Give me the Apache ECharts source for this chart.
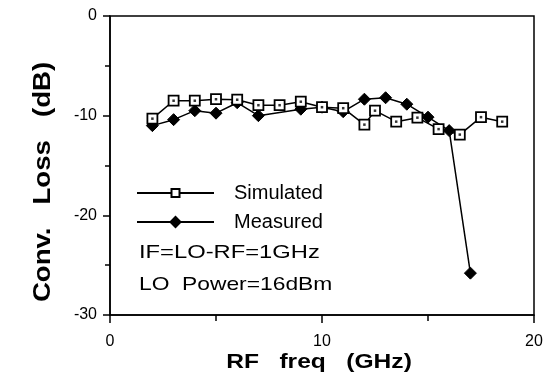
<!DOCTYPE html>
<html>
<head>
<meta charset="utf-8">
<script src="https://cdn.jsdelivr.net/npm/echarts@6/dist/echarts.min.js"></script>
<style>html,body{margin:0;padding:0;background:#fff}#c{width:556px;height:386px}</style>
</head>
<body>
<div id="c"></div>
<script>
var simX = [2, 3, 4, 5, 6, 7, 8, 9, 10, 11, 12, 12.5, 13.5, 14.5, 15.5, 16.5, 17.5, 18.5];
var simY = [-10.3, -8.5, -8.5, -8.35, -8.4, -8.95, -8.95, -8.6, -9.15, -9.25, -10.9, -9.5, -10.6, -10.2, -11.35, -11.9, -10.15, -10.6];
var measX = [2, 3, 4, 5, 6, 7, 9, 10, 11, 12, 13, 14, 15, 16, 17];
var measY = [-11.0, -10.4, -9.5, -9.75, -8.7, -10.0, -9.35, -9.15, -9.6, -8.35, -8.2, -8.85, -10.15, -11.5, -25.8];
var xTicks = ['0', '10', '20'];
var yTicks = ['0', '-10', '-20', '-30'];
var seriesNames = ['Simulated', 'Measured'];
var notes = ['IF=LO-RF=1GHz', 'LO  Power=16dBm'];
var xTitle = 'RF   freq   (GHz)';
var yTitle = 'Conv.   Loss   (dB)';

function pairs(xs, ys) { return xs.map(function (x, i) { return [x, ys[i]]; }); }

var FONT = '"Liberation Sans", Arial, Helvetica, sans-serif';
var legendText = {color: '#000', fontSize: 20, fontFamily: FONT, padding: [0, 0, 0, 15]};
var chart = echarts.init(document.getElementById('c'), null, {renderer: 'canvas'});
chart.setOption({
  animation: false,
  backgroundColor: '#fff',
  grid: {left: 110, top: 16, width: 424, height: 299, show: true, borderColor: '#000', borderWidth: 1.5, backgroundColor: 'transparent'},
  xAxis: {
    type: 'value', min: 0, max: 20, interval: 10,
    axisLine: {onZero: false, lineStyle: {color: '#000', width: 1.5}},
    axisTick: {show: true, length: 8, lineStyle: {color: '#000', width: 1.5}},
    minorTick: {show: true, splitNumber: 2, length: 6, lineStyle: {color: '#000', width: 1.5}},
    splitLine: {show: false},
    axisLabel: {color: '#000', fontSize: 16, fontFamily: FONT, margin: 19,
      formatter: function (v) { var i = xTicks.indexOf(String(v)); return i >= 0 ? xTicks[i] : ''; }}
  },
  yAxis: {
    type: 'value', min: -30, max: 0, interval: 10,
    axisLine: {onZero: false, lineStyle: {color: '#000', width: 1.5}},
    axisTick: {show: true, length: 7, lineStyle: {color: '#000', width: 1.5}},
    minorTick: {show: true, splitNumber: 2, length: 5, lineStyle: {color: '#000', width: 1.5}},
    splitLine: {show: false},
    axisLabel: {color: '#000', fontSize: 16, fontFamily: FONT, margin: 13,
      formatter: function (v) { var i = yTicks.indexOf(String(v)); return i >= 0 ? yTicks[i] : ''; }}
  },
  legend: [
    {left: 131, top: 178, itemWidth: 77, itemHeight: 10, data: [seriesNames[0]], textStyle: legendText},
    {left: 131, top: 207, itemWidth: 77, itemHeight: 16, data: [seriesNames[1]], textStyle: legendText}
  ],
  graphic: [
    {type: 'text', x: 139, y: 253, scaleX: 1.25, style: {text: notes[0], fill: '#000', font: '19px ' + FONT, verticalAlign: 'middle', align: 'left'}},
    {type: 'text', x: 139, y: 285, scaleX: 1.2, style: {text: notes[1], fill: '#000', font: '19px ' + FONT, verticalAlign: 'middle', align: 'left'}},
    {type: 'text', x: 319, y: 362, scaleX: 1.17, style: {text: xTitle, fill: '#000', font: 'bold 21px ' + FONT, verticalAlign: 'middle', align: 'center'}},
    {type: 'text', x: 44, y: 182, rotation: Math.PI / 2, scaleX: 1.2, style: {text: yTitle, fill: '#000', font: 'bold 23px ' + FONT, verticalAlign: 'middle', align: 'center'}}
  ],
  series: [
    {
      name: seriesNames[0], type: 'line', data: pairs(simX, simY),
      symbol: 'rect', symbolSize: 10,
      lineStyle: {color: '#000', width: 1.5},
      itemStyle: {color: '#fff', borderColor: '#000', borderWidth: 1.8},
      z: 3
    },
    {
      name: 'simDot', type: 'scatter', data: pairs(simX, simY),
      symbol: 'rect', symbolSize: 2.5, itemStyle: {color: '#000'}, z: 4, silent: true
    },
    {
      name: seriesNames[1], type: 'line', data: pairs(measX, measY),
      symbol: 'diamond', symbolSize: 12,
      lineStyle: {color: '#000', width: 1.5},
      itemStyle: {color: '#000', borderColor: '#000'},
      z: 2
    }
  ]
});
</script>
</body>
</html>
